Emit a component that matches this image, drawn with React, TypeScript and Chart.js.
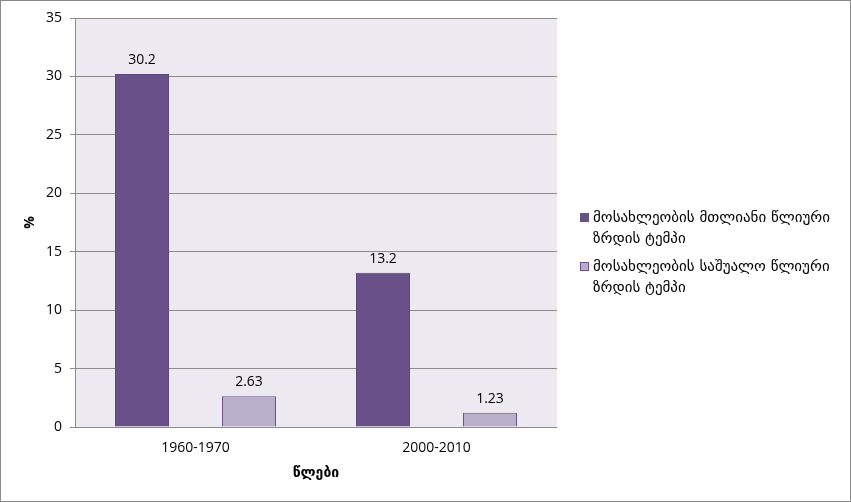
import React, { useEffect, useRef } from "react";
import { Chart, registerables } from "chart.js";

Chart.register(...registerables);

const categories = ["1960-1970", "2000-2010"];
const seriesNames = [
  ["მოსახლეობის მთლიანი წლიური", "ზრდის ტემპი"],
  ["მოსახლეობის საშუალო წლიური", "ზრდის ტემპი"],
];
const totalGrowth = [30.2, 13.2];
const averageGrowth = [2.63, 1.23];
const valueLabels = [
  ["30.2", "13.2"],
  ["2.63", "1.23"],
];
const yTitle = "%";
const xTitle = "წლები";

const DARK = "#6A5089";
const LIGHT = "#B9AFCB";
const NUM_FONT = "'Open Sans', 'DejaVu Sans', sans-serif";
const GEO_FONT = "'DejaVu Sans', sans-serif";

export default function App() {
  const ref = useRef<HTMLCanvasElement | null>(null);

  useEffect(() => {
    document.body.style.margin = "0";
    const canvas = ref.current;
    if (!canvas) return;

    const bgPlugin = {
      id: "bg",
      beforeDraw(chart: any) {
        const { ctx, chartArea } = chart;
        ctx.save();
        ctx.fillStyle = "#ffffff";
        ctx.fillRect(0, 0, chart.width, chart.height);
        ctx.fillStyle = "#ECEAF0";
        ctx.fillRect(chartArea.left, chartArea.top, chartArea.right - chartArea.left, chartArea.bottom - chartArea.top);
        ctx.strokeStyle = "#8a8a8a";
        ctx.lineWidth = 1;
        ctx.strokeRect(0.5, 0.5, chart.width - 1, chart.height - 1);
        ctx.restore();
      },
    };

    const labelPlugin = {
      id: "vals",
      afterDatasetsDraw(chart: any) {
        const { ctx } = chart;
        ctx.save();
        ctx.fillStyle = "#000";
        ctx.font = `14px ${NUM_FONT}`;
        ctx.textAlign = "center";
        ctx.textBaseline = "middle";
        chart.data.datasets.forEach((ds: any, di: number) => {
          const meta = chart.getDatasetMeta(di);
          meta.data.forEach((el: any, i: number) => {
            ctx.fillText(valueLabels[di][i], el.x, el.y - 14);
          });
        });
        ctx.restore();
      },
    };

    const legendPlugin = {
      id: "customLegend",
      afterDraw(chart: any) {
        const { ctx } = chart;
        ctx.save();
        const colors = [DARK, LIGHT];
        const tops = [213, 262];
        ctx.font = `15px ${GEO_FONT}`;
        ctx.textBaseline = "middle";
        ctx.textAlign = "left";
        seriesNames.forEach((lines, i) => {
          const y = tops[i];
          ctx.fillStyle = colors[i];
          ctx.fillRect(580, y, 9, 9);
          ctx.strokeStyle = DARK;
          ctx.lineWidth = 1;
          ctx.strokeRect(580.5, y + 0.5, 8, 8);
          ctx.fillStyle = "#000";
          lines.forEach((t, j) => {
            ctx.fillText(t, 593, y + 5 + j * 21);
          });
        });
        ctx.restore();
      },
    };

    const chart = new Chart(canvas, {
      type: "bar",
      data: {
        labels: categories,
        datasets: [
          {
            label: seriesNames[0].join(" "),
            data: totalGrowth,
            backgroundColor: DARK,
            borderColor: "#5E4780",
            borderWidth: 1,
            barPercentage: 0.505,
            categoryPercentage: 0.888,
          },
          {
            label: seriesNames[1].join(" "),
            data: averageGrowth,
            backgroundColor: LIGHT,
            borderColor: DARK,
            borderWidth: 1,
            barPercentage: 0.505,
            categoryPercentage: 0.888,
          },
        ],
      },
      options: {
        animation: false,
        responsive: false,
        maintainAspectRatio: false,
        layout: { padding: { left: 0, top: 18, right: 294, bottom: 0 } },
        plugins: {
          legend: { display: false },
          tooltip: { enabled: false },
        },
        scales: {
          x: {
            grid: { display: false },
            border: { display: false },
            ticks: { color: "#000", font: { size: 14, family: NUM_FONT }, padding: 5 },
            title: {
              display: true,
              text: xTitle,
              color: "#000",
              font: { size: 14, weight: "bold", family: GEO_FONT },
              padding: { top: 0, bottom: 20 },
            },
            afterFit(s: any) {
              s.height = 75;
            },
          },
          y: {
            min: 0,
            max: 35,
            ticks: { stepSize: 5, color: "#000", font: { size: 14, family: NUM_FONT }, padding: 8 },
            grid: { color: "#8c8c8c", tickLength: 5, lineWidth: 1 },
            border: { display: true, color: "#8c8c8c" },
            title: {
              display: true,
              text: yTitle,
              color: "#000",
              font: { size: 14, weight: "bold", family: NUM_FONT },
              padding: { top: 22, bottom: 0 },
            },
            afterFit(s: any) {
              s.width = 75;
            },
          },
        },
      },
      plugins: [bgPlugin, labelPlugin, legendPlugin],
    });

    return () => chart.destroy();
  }, []);

  return (
    <div style={{ width: 851, height: 502 }}>
      <canvas ref={ref} width={851} height={502} style={{ display: "block", width: 851, height: 502 }} />
    </div>
  );
}
